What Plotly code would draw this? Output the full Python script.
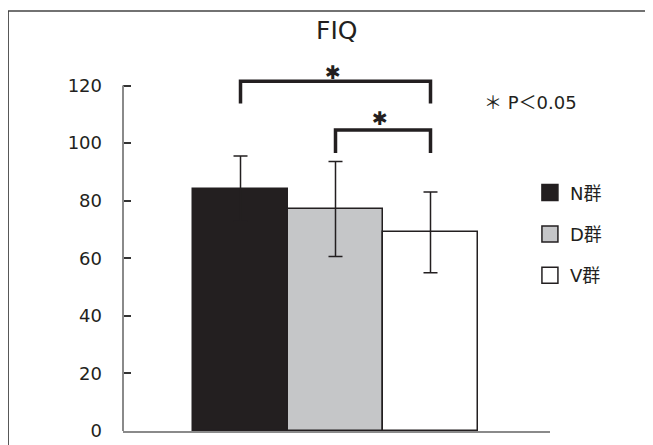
import plotly.graph_objects as go

groups = ["N群", "D群", "V群"]
means = [84.2, 77.1, 69.0]
sd = [11.3, 16.5, 14.0]
fills = ["#231f20", "#c5c6c8", "#ffffff"]
positions = [0, 1, 2]
yticks = [0, 20, 40, 60, 80, 100, 120]

# significance brackets: (from, to, bar height, leg bottom, star x, star y)
brackets = [(0, 2, 121.5, 113.8, 0.97, 124.8), (1, 2, 104.6, 96.6, 1.47, 108.7)]

FONT = "Liberation Sans, Arial, Noto Sans CJK JP"
NUMFONT = "DejaVu Sans, Noto Sans CJK JP"

fig = go.Figure()
for i, g in enumerate(groups):
    fig.add_trace(go.Bar(
        x=[positions[i]], y=[means[i]], width=1.0, name=g,
        marker=dict(color=fills[i], line=dict(color="#231f20", width=1.5)),
        error_y=dict(type="data", array=[sd[i]], visible=True,
                     color="#231f20", thickness=1.5, width=7),
        showlegend=False,
    ))
    fig.add_trace(go.Scatter(
        x=[None], y=[None], mode="markers", name=g,
        marker=dict(symbol="square", size=16, color=fills[i],
                    line=dict(color="#231f20", width=1.5)),
        legendgroup=g,
    ))

shapes = []
# frame
shapes.append(dict(type="rect", xref="paper", yref="paper",
                   x0=-0.269, x1=1.4, y0=-0.2, y1=1.042,
                   line=dict(color="#444444", width=1.5), fillcolor="rgba(0,0,0,0)",
                   layer="below"))
# y axis line from 0 to 120
shapes.append(dict(type="line", xref="paper", yref="y", x0=0, x1=0,
                   y0=0, y1=yticks[-1], line=dict(color="#8a8a8a", width=2)))
annotations = []
for a, b, top, bottom, sx, sy in brackets:
    shapes.append(dict(type="path", xref="x", yref="y",
                       path=f"M {a},{bottom} L {a},{top} L {b},{top} L {b},{bottom}",
                       line=dict(color="#231f20", width=3.5)))
    annotations.append(dict(x=sx, y=sy, xref="x", yref="y",
                            text="✱", showarrow=False, yanchor="middle",
                            font=dict(size=19, color="#231f20", family="DejaVu Sans")))

annotations.append(dict(x=0.5, y=0.9926, xref="paper", yref="paper", text="FIQ",
                        showarrow=False, yanchor="middle", xanchor="center",
                        font=dict(size=25, color="#231f20", family=NUMFONT)))
annotations.append(dict(x=0.84, y=0.815, xref="paper", yref="paper",
                        text="＊ P＜0.05", showarrow=False, xanchor="left", yanchor="middle",
                        font=dict(size=18, color="#231f20", family=NUMFONT)))

fig.update_layout(
    width=653, height=445,
    margin=dict(l=115, r=111, t=20, b=18),
    paper_bgcolor="white", plot_bgcolor="white",
    font=dict(family=FONT, size=18, color="#231f20"),
    showlegend=True,
    legend=dict(x=0.953, y=0.637, xanchor="left", yanchor="top",
                traceorder="grouped", tracegroupgap=15,
                font=dict(size=18, color="#231f20", family=NUMFONT),
                bgcolor="rgba(0,0,0,0)"),
    shapes=shapes, annotations=annotations,
    bargap=0,
)
fig.update_xaxes(range=[-1.237, 3.258], showticklabels=False, ticks="",
                 showgrid=False, zeroline=False, showline=True,
                 linecolor="#8a8a8a", linewidth=2, fixedrange=True)
fig.update_yaxes(range=[0, 140], tickvals=yticks, ticks="inside", ticklen=8,
                 tickwidth=1.5, tickcolor="#333333", showgrid=False, zeroline=False,
                 showline=False, ticklabelstandoff=20,
                 tickfont=dict(size=18, color="#231f20", family=NUMFONT))

fig.write_html("out.html")
